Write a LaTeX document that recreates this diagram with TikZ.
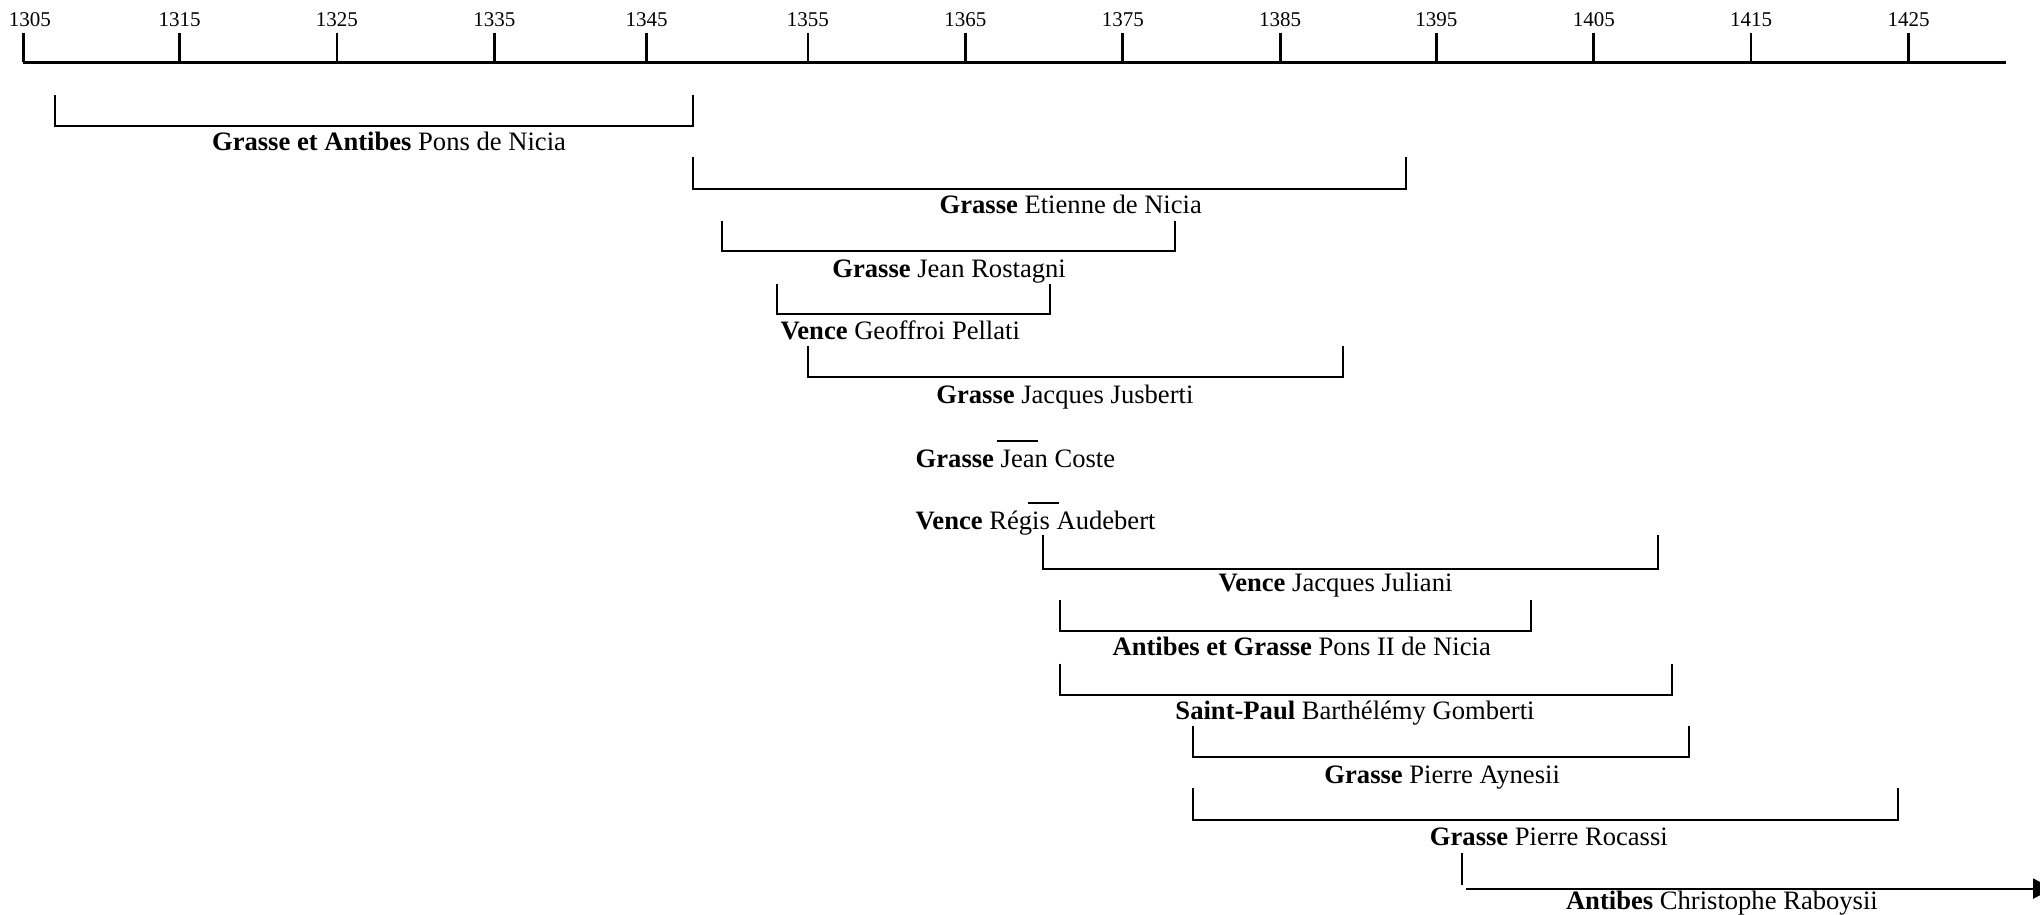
\documentclass[tikz,border=0pt]{standalone}
\usepackage{fontspec}
\setmainfont{Liberation Serif}
\usetikzlibrary{arrows.meta}
\newcommand\brk[4]{\draw[bar] (#1,#3) |- (#2,#4) -- (#2,#3);}
\begin{document}
\begin{tikzpicture}[x=0.6505pt,y=-0.6505pt,
  axisline/.style={line width=1.3pt},
  bar/.style={line width=1pt},
  lbl/.style={anchor=base,inner sep=0pt,font=\fontsize{13.3}{16}\selectfont},
  yr/.style={anchor=base,inner sep=0pt,font=\fontsize{10.5}{12}\selectfont}]
\useasboundingbox[fill=white] (0,0) rectangle (1568,703);
\clip (0,0) rectangle (1568,703);
% axis
\draw[axisline] (18,48) -- (1542,48);
\foreach \x/\y/\c in {18/1305/23,138/1315/138,259/1325/259,380/1335/380,497/1345/497,621/1355/621,742/1365/742,863/1375/863,984/1385/984,1104/1395/1104,1225/1405/1225,1346/1415/1346,1467/1425/1467}{
  \draw[axisline] (\x,25) -- (\x,48);
  \node[yr] (t\y) at (\c,20) {\y};
}
% brackets
\brk{42}{533}{73}{97}
\node[lbl] (l1) at (299,116) {\textbf{Grasse et Antibes} Pons de Nicia};
\brk{533}{1081}{121}{145}
\node[lbl] (l2) at (823,164) {\textbf{Grasse} Etienne de Nicia};
\brk{555}{903}{170}{193}
\node[lbl] (l3) at (729.5,213) {\textbf{Grasse} Jean Rostagni};
\brk{597}{807}{218}{241}
\node[lbl] (l4) at (692,261) {\textbf{Vence} Geoffroi Pellati};
\brk{621}{1032}{266}{290}
\node[lbl] (l5) at (818.5,310) {\textbf{Grasse} Jacques Jusberti};
\draw[bar] (766,339) -- (798,339);
\node[lbl] (l6) at (780.5,359) {\textbf{Grasse} Jean Coste};
\draw[bar] (790,387) -- (814,387);
\node[lbl] (l7) at (796,407) {\textbf{Vence} Régis Audebert};
\brk{802}{1274}{411}{437}
\node[lbl] (l8) at (1026.5,455) {\textbf{Vence} Jacques Juliani};
\brk{815}{1177}{461}{485}
\node[lbl] (l9) at (1000.5,504) {\textbf{Antibes et Grasse} Pons II de Nicia};
\brk{815}{1285}{510}{534}
\node[lbl] (l10) at (1041.5,553) {\textbf{Saint-Paul} Barthélémy Gomberti};
\brk{917}{1298}{558}{582}
\node[lbl] (l11) at (1108.5,602) {\textbf{Grasse} Pierre Aynesii};
\brk{917}{1459}{606}{630}
\node[lbl] (l12) at (1190.5,650) {\textbf{Grasse} Pierre Rocassi};
\draw[bar] (1124,656) -- (1124,680);
\coordinate (a0) at (1127,683);
\coordinate (a1) at (1578,683);
\draw[bar,-{Triangle[length=10pt,width=10pt]}] (a0) -- (a1);
\node[lbl] (l13) at (1323.5,699) {\textbf{Antibes} Christophe Raboysii};
\end{tikzpicture}
\end{document}
